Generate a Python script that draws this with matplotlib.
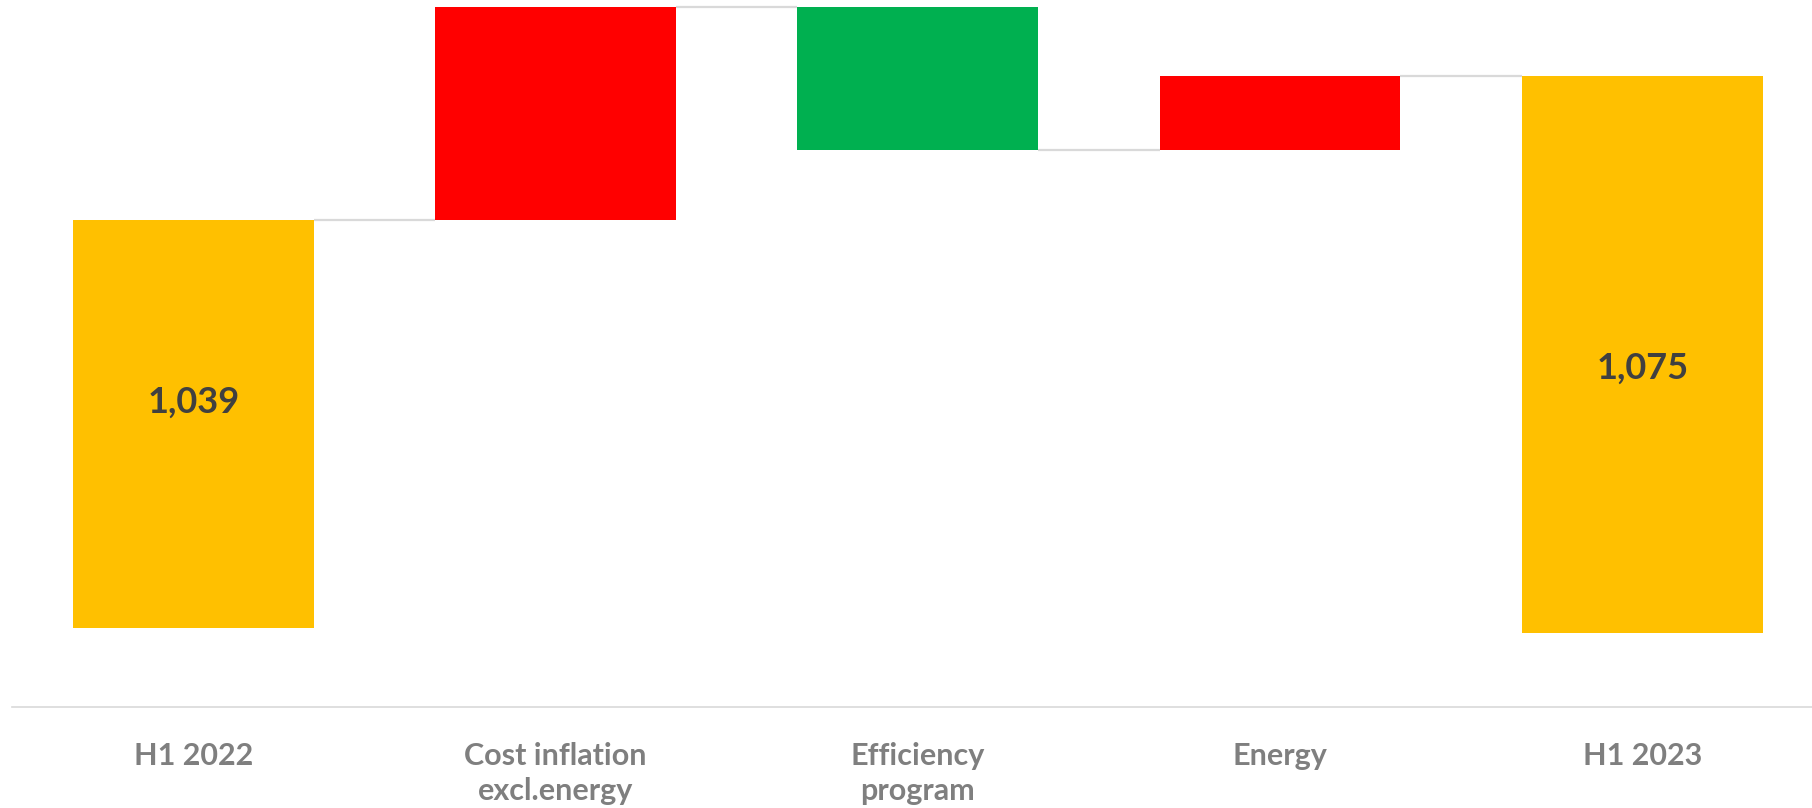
import matplotlib
matplotlib.use("Agg")
import matplotlib.pyplot as plt

# ---- data ----
categories = ["H1 2022", "Cost inflation\nexcl.energy", "Efficiency\nprogram", "Energy", "H1 2023"]
start_total = 1039
deltas = [53.2, -35.7, 18.5]
end_total = 1075
total_bases = [936.6, 935.5]          # visible bottom of the two total bars
value_labels = ["1,039", "1,075"]

# ---- style ----
GOLD = "#FFC000"
RED = "#FF0000"
GREEN = "#00B050"
GRID = "#D9D9D9"
LABEL_GRAY = "#7F7F7F"
VALUE_DARK = "#404040"
BAR_W = 0.665

plt.rcParams['font.family'] = ['Lato', 'DejaVu Sans']

fig = plt.figure(figsize=(18.12, 8.08), dpi=100)
left_px, bottom_px = 12.3, 808 - 707
ax = fig.add_axes([left_px / 1812, bottom_px / 808, (1812 - left_px) / 1812, 707 / 808])

# totals
ax.bar(0, start_total - total_bases[0], bottom=total_bases[0], width=BAR_W, color=GOLD, zorder=3)
ax.bar(4, end_total - total_bases[1], bottom=total_bases[1], width=BAR_W, color=GOLD, zorder=3)

# deltas
levels = [start_total]
cur = start_total
for i, d in enumerate(deltas, start=1):
    color = RED if d > 0 else GREEN
    ax.bar(i, abs(d), bottom=min(cur, cur + d), width=BAR_W, color=color, zorder=3)
    cur += d
    levels.append(cur)
levels.append(end_total)

# connectors
for i in range(4):
    ax.plot([i + BAR_W / 2, i + 1 - BAR_W / 2], [levels[i], levels[i]],
            color=GRID, lw=1.6, zorder=2, solid_capstyle='butt')

# value labels on total bars
ax.text(0, (start_total + total_bases[0]) / 2 + 5.5, value_labels[0], ha='center', va='center',
        fontsize=26, fontweight='bold', color=VALUE_DARK, zorder=4)
ax.text(4, (end_total + total_bases[1]) / 2 - 3.5, value_labels[1], ha='center', va='center',
        fontsize=26, fontweight='bold', color=VALUE_DARK, zorder=4)

ax.set_xlim(-0.5, -0.5 + (1812 - left_px) / 362.2)
ax.set_ylim(1039 - (707 - 219.7) / 3.99, 1039 + 219.7 / 3.99)

ax.set_xticks(range(len(categories)))
ax.set_xticklabels(categories, fontsize=22, fontweight='bold', color=LABEL_GRAY, linespacing=1.3)
ax.tick_params(axis='x', length=0, pad=25)
ax.set_yticks([])
for s in ['top', 'left', 'right']:
    ax.spines[s].set_visible(False)
ax.spines['bottom'].set_color(GRID)
ax.spines['bottom'].set_linewidth(1.2)

fig.savefig("out.png", dpi=100, facecolor='white')
